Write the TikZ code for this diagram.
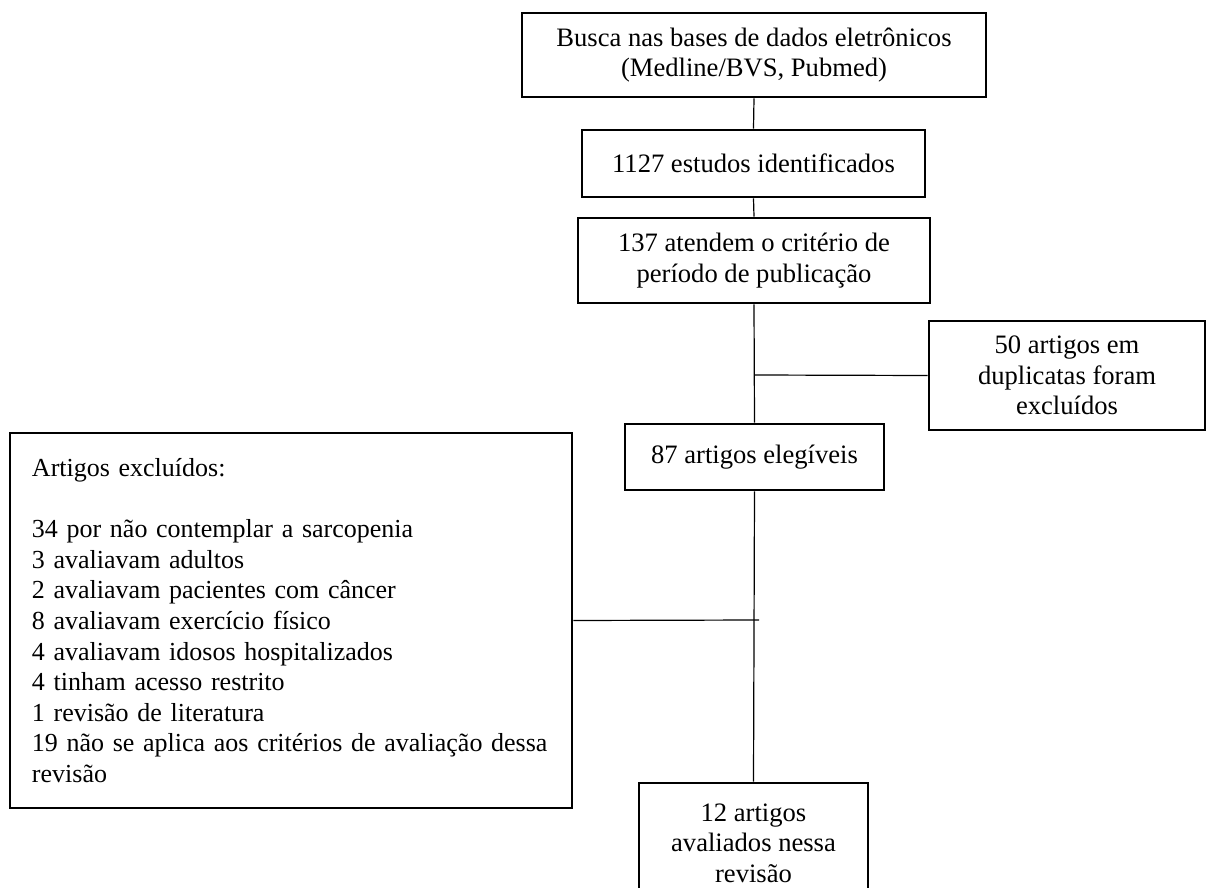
\documentclass[tikz,border=0pt]{standalone}
\usepackage{fontspec}
\setmainfont{Liberation Serif}
\begin{document}
\begin{tikzpicture}[x=0.5pt,y=-0.5pt,
  box/.style={draw=black,line width=1.4pt,rectangle,inner sep=0pt,align=center,
    font=\fontsize{13.3}{15.2}\selectfont},
  conn/.style={draw=black,line width=0.6pt}]
\useasboundingbox (0,0) rectangle (1206,888);
\fill[white] (0,0) rectangle (1206,888);
\node[box,minimum width=232pt,minimum height=42pt] (b1) at (754,55)
  {\rule{0pt}{5pt}Busca nas bases de dados eletrônicos\\(Medline/BVS, Pubmed)};
\node[box,minimum width=171.5pt,minimum height=33.5pt] (b2) at (753.5,163.5)
  {1127 estudos identificados};
\node[box,minimum width=176pt,minimum height=42.5pt] (b3) at (754,260.5)
  {137 atendem o critério de\\período de publicação};
\node[box,minimum width=138pt,minimum height=54.5pt] (b50) at (1067,375.5)
  {50 artigos em\\duplicatas foram\\excluídos};
\node[box,minimum width=129.5pt,minimum height=33pt] (b87) at (754.5,457)
  {87 artigos elegíveis};
\node[box,minimum width=281pt,minimum height=187.5pt,text width=259pt,inner xsep=11pt,align=left,
  font=\fontsize{13}{15.3}\selectfont] (bex) at (291,620.5)
  {Artigos excluídos:\\[15.3pt]
   34 por não contemplar a sarcopenia\\
   3 avaliavam adultos\\
   2 avaliavam pacientes com câncer\\
   8 avaliavam exercício físico\\
   4 avaliavam idosos hospitalizados\\
   4 tinham acesso restrito\\
   1 revisão de literatura\\
   19 não se aplica aos critérios de avaliação dessa\\
   revisão};
\node[box,minimum width=114.5pt,minimum height=60pt] (b12) at (753.5,843)
  {12 artigos\\avaliados nessa\\revisão};
\coordinate (j1) at (754,375);
\coordinate (j2) at (759,620);
\draw[conn] (b1.south) -- (b2.north);
\draw[conn] (b2.south) -- (b3.north);
\draw[conn] (b3.south) -- (b87.north);
\draw[conn] (j1) -- (b50.west);
\draw[conn] (b87.south) -- (b12.north);
\draw[conn] (bex.east) -- (j2);
\end{tikzpicture}
\end{document}
